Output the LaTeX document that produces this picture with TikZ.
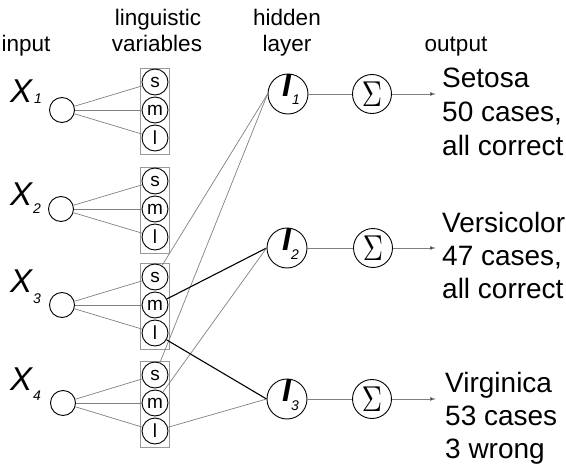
\documentclass[tikz,border=0pt]{standalone}
\usepackage[no-math]{fontspec}
\setmainfont{Liberation Sans}
\usetikzlibrary{arrows.meta}
\begin{document}
\begin{tikzpicture}[x=1pt,y=-1pt,
  incirc/.style={circle,draw,line width=0.9pt,minimum size=25pt,inner sep=0pt},
  lcirc/.style={circle,draw,line width=0.9pt,minimum size=26pt,inner sep=0pt,font=\fontsize{19}{19}\selectfont},
  hcirc/.style={circle,draw,line width=0.9pt,minimum size=40pt,inner sep=0pt},
  scirc/.style={circle,draw,line width=0.9pt,minimum size=39pt,inner sep=0pt},
  lbox/.style={draw=black!40,line width=0.9pt,minimum width=29pt,minimum height=86pt,inner sep=0pt},
  thinl/.style={draw=black!50,line width=0.7pt},
  boldl/.style={draw=black,line width=1.1pt},
  arr/.style={draw=black!50,line width=0.7pt,-{Latex[length=6pt,width=4pt,fill=black]}},
  head/.style={font=\fontsize{22.5}{22.5}\selectfont,inner sep=0pt,anchor=base},
  outt/.style={font=\fontsize{28}{28}\selectfont,inner sep=0pt,anchor=base west},
  xlab/.style={font=\fontsize{33}{33}\selectfont\itshape,inner sep=0pt,anchor=base west},
  ilab/.style={font=\fontsize{32}{32}\selectfont\bfseries\itshape,inner sep=0pt,anchor=base west},
  sublab/.style={font=\fontsize{14}{14}\selectfont\itshape,inner sep=0pt,anchor=base west},
  sig/.style={scirc,font=\normalsize}
]
\useasboundingbox (0,0) rectangle (566,471);

% headers
\node[head] (h1) at (26,52) {input};
\node[head] (h2) at (158,25) {linguistic};
\node[head] (h3) at (157,52) {variables};
\node[head] (h4) at (287,25) {hidden};
\node[head] (h5) at (287,52) {layer};
\node[head] (h6) at (456,52) {output};

% input variable labels
\node[xlab] (xl1) at (10,102) {X};
\node[sublab] (xs1) at (34,103) {1};
\node[xlab] (xl2) at (10,205) {X};
\node[sublab] (xs2) at (33,213) {2};
\node[xlab] (xl3) at (10,292) {X};
\node[sublab] (xs3) at (33,303) {3};
\node[xlab] (xl4) at (10,390) {X};
\node[sublab] (xs4) at (33,400) {4};

% input nodes
\node[incirc] (in1) at (62,110) {};
\node[incirc] (in2) at (61,209) {};
\node[incirc] (in3) at (62,305) {};
\node[incirc] (in4) at (63,403) {};

% linguistic variable boxes and circles
\foreach \i/\y in {1/110,2/209,3/305,4/403}{
  \node[lbox] (box\i) at (154.5,\y+1) {};
  \node[lcirc] (s\i) at (155,\y-28) {s};
  \node[lcirc] (m\i) at (155,\y) {m};
  \node[lcirc] (l\i) at (155,\y+28) {l};
  \draw[thinl] (in\i) -- (s\i);
  \draw[thinl] (in\i) -- (m\i);
  \draw[thinl] (in\i) -- (l\i);
}

% hidden layer
\node[hcirc] (H1) at (288,94) {};
\node[hcirc] (H2) at (287,248) {};
\node[hcirc] (H3) at (287,399) {};
\node[ilab] (il1) at (282,96) {I};
\node[sublab] (is1) at (292,104) {1};
\node[ilab] (il2) at (282,250) {I};
\node[sublab] (is2) at (291,259) {2};
\node[ilab] (il3) at (282,401) {I};
\node[sublab] (is3) at (291,410) {3};

% sum nodes
\node[sig] (S1) at (372,94) {\scalebox{2.8}[3.6]{$\Sigma$}};
\node[sig] (S2) at (373,248) {\scalebox{2.8}[3.6]{$\Sigma$}};
\node[sig] (S3) at (372,399) {\scalebox{2.8}[3.6]{$\Sigma$}};

% output arrow ends
\coordinate (o1) at (436,94);
\coordinate (o2) at (436,248);
\coordinate (o3) at (436,399);

% connections to hidden layer
\draw[thinl] (s3) -- (H1.west);
\draw[thinl] (s4) -- (H1.west);
\draw[boldl] (m3) -- (H2.west);
\draw[thinl] (m4) -- (H2.west);
\draw[boldl] (l3) -- (H3.west);
\draw[thinl] (l4) -- (H3.west);

% hidden to sum, sum to output
\draw[thinl] (H1) -- (S1);
\draw[thinl] (H2) -- (S2);
\draw[thinl] (H3) -- (S3);
\draw[arr] (S1) -- (o1);
\draw[arr] (S2) -- (o2);
\draw[arr] (S3) -- (o3);

% output texts
\node[outt] (t11) at (442,87) {Setosa};
\node[outt] (t12) at (442,121) {50 cases,};
\node[outt] (t13) at (442,155) {all correct};
\node[outt] (t21) at (442,232) {Versicolor};
\node[outt] (t22) at (442,265) {47 cases,};
\node[outt] (t23) at (442,298) {all correct};
\node[outt] (t31) at (445,392) {Virginica};
\node[outt] (t32) at (445,425) {53 cases};
\node[outt] (t33) at (445,458) {3 wrong};
\end{tikzpicture}
\end{document}
